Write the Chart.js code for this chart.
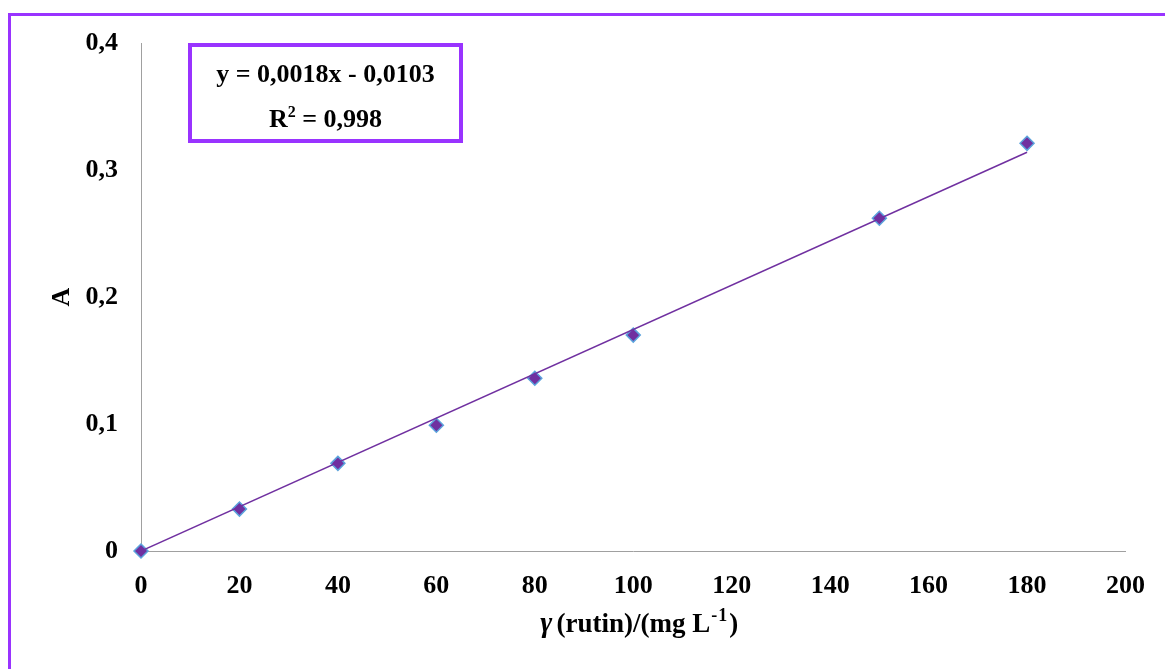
<!DOCTYPE html>
<html>
<head>
<meta charset="utf-8">
<script src="https://cdn.jsdelivr.net/npm/chart.js@4.4.0/dist/chart.umd.min.js"></script>
<style>
  html, body { margin: 0; padding: 0; background: #fff; overflow: hidden; }
  #wrap { position: relative; width: 1165px; height: 669px; }
  #frame { position: absolute; left: 8px; top: 13px; width: 1200px; height: 700px;
           border-top: 3px solid #9933ff; border-left: 3px solid #9933ff; }
  canvas { position: absolute; left: 0; top: 0; }
</style>
</head>
<body>
<div id="wrap">
  <div id="frame"></div>
  <canvas id="myChart" width="1165" height="669"></canvas>
</div>
<script>
// rutin calibration, absorbance readings
const concentrations = [0, 20, 40, 60, 80, 100, 150, 180];
const absorbance = [0, 0.033, 0.069, 0.099, 0.136, 0.170, 0.262, 0.321];
// trend line as drawn (ends)
const trendX = [0, 180];
const trendY = [0, 0.314];
const xTicks = [0, 20, 40, 60, 80, 100, 120, 140, 160, 180, 200];
const yTicks = [0, 0.1, 0.2, 0.3, 0.4];
const equationText = 'y = 0,0018x - 0,0103';
const r2Text = '0,998';

const purple = '#7030a0';
const serif = "'Liberation Serif', 'Times New Roman', serif";

// the box with the equation + x axis title (mixed italic/superscript)
const extraText = {
  id: 'extraText',
  afterDraw(chart) {
    const ctx = chart.ctx;
    const area = chart.chartArea;
    ctx.save();
    // equation box
    const bx = area.left + 49, by = area.top + 2, bw = 271, bh = 96;
    ctx.strokeStyle = '#9933ff';
    ctx.lineWidth = 4;
    ctx.strokeRect(bx, by, bw, bh);
    ctx.fillStyle = '#000';
    ctx.textBaseline = 'alphabetic';
    ctx.textAlign = 'left';
    ctx.font = 'bold 26px ' + serif;
    const cx = bx + bw / 2;
    let w = ctx.measureText(equationText).width;
    ctx.fillText(equationText, cx - w / 2, by + 37);
    // R^2 line
    const p1 = 'R', p3 = ' = ' + r2Text;
    ctx.font = 'bold 26px ' + serif;
    const w1 = ctx.measureText(p1).width, w3 = ctx.measureText(p3).width;
    ctx.font = 'bold 16px ' + serif;
    const w2 = ctx.measureText('2').width;
    let x = cx - (w1 + w2 + w3) / 2;
    const base2 = by + 82;
    ctx.font = 'bold 26px ' + serif;
    ctx.fillText(p1, x, base2); x += w1;
    ctx.font = 'bold 16px ' + serif;
    ctx.fillText('2', x, base2 - 10); x += w2;
    ctx.font = 'bold 26px ' + serif;
    ctx.fillText(p3, x, base2);

    // x axis title: γ(rutin)/(mg L-1)
    const parts = [
      { t: 'γ', f: 'italic bold 29px ' + serif, dy: 0, gap: 4 },
      { t: '(rutin)/(mg L', f: 'bold 27px ' + serif, dy: 0, gap: 1 },
      { t: '-', f: 'bold 18px ' + serif, dy: -11, gap: 1 },
      { t: '1', f: 'bold 18px ' + serif, dy: -11, gap: 2 },
      { t: ')', f: 'bold 27px ' + serif, dy: 0, gap: 0 }
    ];
    let total = 0;
    parts.forEach(p => { ctx.font = p.f; p.w = ctx.measureText(p.t).width; total += p.w + p.gap; });
    x = (area.left + area.right) / 2 + 6 - total / 2;
    const tb = area.bottom + 81;
    parts.forEach(p => { ctx.font = p.f; ctx.fillText(p.t, x, tb + p.dy); x += p.w + p.gap; });
    ctx.restore();
  }
};

const ctx = document.getElementById('myChart').getContext('2d');
const chart = new Chart(ctx, {
  type: 'scatter',
  data: {
    datasets: [
      {
        label: 'trend',
        data: trendX.map((x, i) => ({ x: x, y: trendY[i] })),
        showLine: true,
        borderColor: purple,
        borderWidth: 1.5,
        pointRadius: 0,
        fill: false
      },
      {
        label: 'A',
        data: concentrations.map((x, i) => ({ x: x, y: absorbance[i] })),
        pointStyle: 'rectRot',
        pointRadius: 7,
        backgroundColor: purple,
        borderColor: '#5ba3dc',
        borderWidth: 1.5,
        clip: false
      }
    ]
  },
  options: {
    responsive: false,
    animation: false,
    events: [],
    layout: { padding: { top: 43, right: 37, bottom: 0, left: 0 } },
    plugins: {
      legend: { display: false },
      tooltip: { enabled: false }
    },
    scales: {
      x: {
        type: 'linear',
        min: 0, max: 200,
        afterBuildTicks: s => { s.ticks = xTicks.map(v => ({ value: v })); },
        afterFit: s => { s.height = 118; },
        grid: { display: false, drawTicks: false },
        border: { color: '#a0a0a0', width: 1 },
        ticks: {
          padding: 20,
          color: '#000',
          font: { family: serif, size: 26, weight: 'bold' }
        }
      },
      y: {
        type: 'linear',
        min: 0, max: 0.4,
        afterBuildTicks: s => { s.ticks = yTicks.map(v => ({ value: v })); },
        afterFit: s => { s.width = 141; },
        grid: { display: false, drawTicks: false },
        border: { color: '#a0a0a0', width: 1 },
        ticks: {
          padding: 23,
          color: '#000',
          font: { family: serif, size: 26, weight: 'bold' },
          callback: v => String(v).replace('.', ',')
        },
        title: {
          display: true,
          text: 'A',
          color: '#000',
          padding: { top: 47, bottom: 0 },
          font: { family: serif, size: 26, weight: 'bold' }
        }
      }
    }
  },
  plugins: [extraText]
});
</script>
</body>
</html>
